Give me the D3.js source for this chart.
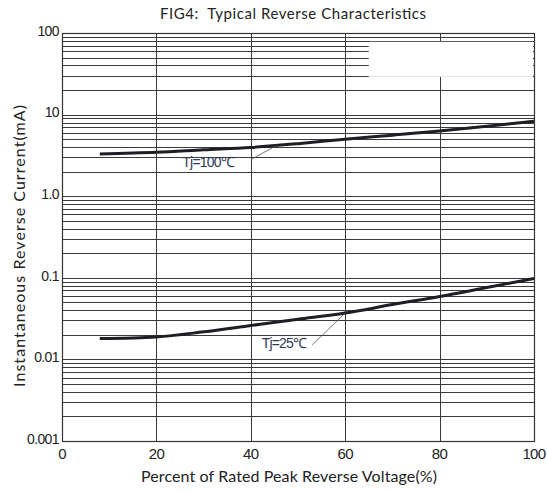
<!DOCTYPE html>
<meta charset="utf-8">
<script src="https://d3js.org/d3.v7.min.js"></script>
<style>
  body { margin: 0; background: #fff; }
</style>
<svg id="chart" width="547" height="491"></svg>
<script>
// percent of rated peak reverse voltage
const pct = [8, 20, 30, 40, 50, 60, 70, 80, 90, 100];
// reverse current (mA)
const tj100 = [3.3, 3.45, 3.7, 3.95, 4.4, 5.0, 5.6, 6.3, 7.2, 8.3];
const tj25 = [0.018, 0.0188, 0.0218, 0.026, 0.031, 0.037, 0.047, 0.059, 0.076, 0.098];

const xTicks = [0, 20, 40, 60, 80, 100];
const yTicks = [0.001, 0.01, 0.1, 1, 10, 100];
const yTickLabels = ["0.001", "0.01", "0.1", "1.0", "10", "100"];

const labels = [
  { text: "Tj=100\u2103", x: 25.5, y: 2.6, from: [40, 2.8], to: [45.5, 4.2] },
  { text: "Tj=25\u2103", x: 42.3, y: 0.0158, from: [53, 0.015], to: [60, 0.037] }
];

const svg = d3.select("#chart");
const m = { left: 62, top: 33, right: 13, bottom: 50 };
const W = 547 - m.left - m.right, H = 491 - m.top - m.bottom;

const x = d3.scaleLinear().domain([0, 100]).range([m.left, m.left + W]);
const y = d3.scaleLog().domain([0.001, 100]).range([m.top + H, m.top]);

const grid = svg.append("g").attr("stroke", "#3a3a3a").attr("stroke-width", 1);

// minor + major horizontal lines
const hLines = [];
for (let d = 0.001; d < 100; d *= 10) {
  for (let k = 1; k <= 10; k++) hLines.push(+(d * k).toPrecision(3));
}
grid.selectAll("line.h").data(Array.from(new Set(hLines))).enter().append("line")
  .attr("x1", x(0)).attr("x2", x(100))
  .attr("y1", d => Math.round(y(d)) + 0.5).attr("y2", d => Math.round(y(d)) + 0.5);

grid.selectAll("line.v").data(xTicks).enter().append("line")
  .attr("y1", y(0.001)).attr("y2", y(100))
  .attr("x1", d => Math.round(x(d)) + 0.5).attr("x2", d => Math.round(x(d)) + 0.5);

// blank patch in the top decade
svg.append("rect")
  .attr("x", x(65)).attr("width", x(100) - x(65) - 1)
  .attr("y", y(78)).attr("height", y(29) - y(78))
  .attr("fill", "#fff");

// frame
svg.append("rect")
  .attr("x", x(0) + 0.5).attr("y", y(100) + 0.5)
  .attr("width", x(100) - x(0)).attr("height", y(0.001) - y(100))
  .attr("fill", "none").attr("stroke", "#333").attr("stroke-width", 1.2);

// curves
const line = d3.line().x((d, i) => x(pct[i])).y(d => y(d)).curve(d3.curveCatmullRom.alpha(0.5));
[tj100, tj25].forEach(s => {
  svg.append("path").attr("d", line(s))
    .attr("fill", "none").attr("stroke", "#1e1e24").attr("stroke-width", 3);
});

// annotations
labels.forEach(l => {
  svg.append("line")
    .attr("x1", x(l.from[0])).attr("y1", y(l.from[1]))
    .attr("x2", x(l.to[0])).attr("y2", y(l.to[1]))
    .attr("stroke", "#555").attr("stroke-width", 0.8);
  svg.append("text").attr("x", x(l.x)).attr("y", y(l.y))
    .attr("dy", "0.35em")
    .style("font-family", "'Liberation Sans', Arial, sans-serif")
    .style("font-size", "14px").style("letter-spacing", "-0.8px")
    .attr("fill", "#2f3a55").text(l.text);
});

// tick labels
svg.selectAll("text.yt").data(yTicks).enter().append("text")
  .attr("x", m.left - 3).attr("y", d => y(d)).attr("dy", "0.2em")
  .attr("text-anchor", "end")
  .style("font-family", "'Liberation Sans', Arial, sans-serif").style("font-size", "14px")
  .style("letter-spacing", "-0.6px").attr("fill", "#222")
  .text((d, i) => yTickLabels[i]);

svg.selectAll("text.xt").data(xTicks).enter().append("text")
  .attr("x", d => x(d)).attr("y", y(0.001) + 18)
  .attr("text-anchor", "middle")
  .style("font-family", "'Liberation Sans', Arial, sans-serif").style("font-size", "15px")
  .style("letter-spacing", "-0.6px").attr("fill", "#222")
  .text(d => d);

// titles
svg.append("text").attr("x", 293).attr("y", 19).attr("text-anchor", "middle")
  .style("font-family", "Lato, sans-serif").style("font-size", "15px").attr("fill", "#222")
  .style("white-space", "pre").attr("textLength", 266).attr("lengthAdjust", "spacing")
  .text("FIG4:  Typical Reverse Characteristics");

svg.append("text").attr("x", 289).attr("y", 482).attr("text-anchor", "middle")
  .style("font-family", "Lato, sans-serif").style("font-size", "16px").attr("fill", "#222")
  .attr("textLength", 296).attr("lengthAdjust", "spacing")
  .text("Percent of Rated Peak Reverse Voltage(%)");

svg.append("text").attr("transform", "translate(25,246) rotate(-90)").attr("text-anchor", "middle")
  .style("font-family", "Lato, sans-serif").style("font-size", "16px").attr("fill", "#222")
  .attr("textLength", 282).attr("lengthAdjust", "spacing")
  .text("Instantaneous Reverse Current(mA)");
</script>
